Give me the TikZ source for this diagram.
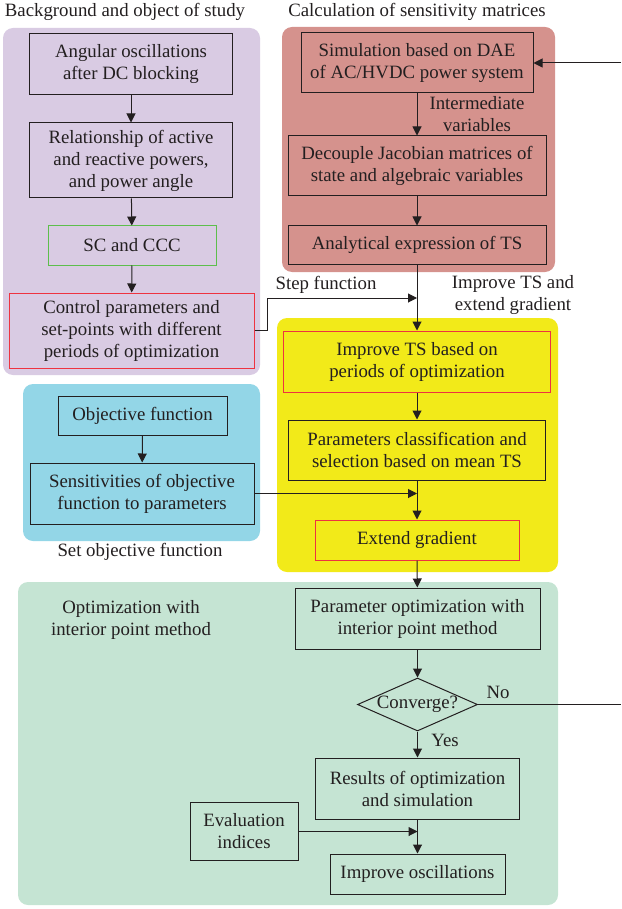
\documentclass[tikz,border=0pt]{standalone}
\usepackage{fontspec}
\setmainfont{Liberation Serif}
\usetikzlibrary{shapes.geometric,arrows.meta}

\definecolor{inkgrey}{HTML}{231F20}
\definecolor{studybg}{HTML}{D9CBE3}
\definecolor{sensbg}{HTML}{D5928D}
\definecolor{tsbg}{HTML}{F2EA19}
\definecolor{objbg}{HTML}{93D6E7}
\definecolor{optbg}{HTML}{C5E4D3}
\definecolor{markred}{HTML}{EE3340}
\definecolor{markgreen}{HTML}{5DBE4C}

\begin{document}
\begin{tikzpicture}[
    x=1pt, y=-1pt,
    font=\fontsize{18.8}{22}\selectfont,
    every node/.style={text=inkgrey},
    panel/.style={rounded corners=10pt},
    box/.style={draw=inkgrey, line width=1pt, align=center, inner sep=0pt},
    redbox/.style={box, draw=markred},
    greenbox/.style={box, draw=markgreen},
    decision/.style={draw=inkgrey, line width=1pt, diamond, aspect=2.26, inner sep=0pt,
        minimum width=120pt, minimum height=53pt},
    label/.style={align=center, inner sep=0pt},
    line/.style={draw=inkgrey, line width=1pt},
    arr/.style={line, -{Triangle[length=9pt, width=9pt]}}
]
\useasboundingbox (0,0) rectangle (621,909);

% Tla grup
\fill[panel, studybg] (3,28) rectangle (260,375);
\fill[panel, sensbg] (282,27) rectangle (555,272);
\fill[panel, tsbg] (277,318) rectangle (558,572);
\fill[panel, objbg] (23,384) rectangle (260,541);
\fill[panel, optbg] (18,582) rectangle (558,905);

% Tytuly grup
\node[label] (tstudy) at (125,12) {Background and object of study};
\node[label] (tsens) at (417,12) {Calculation of sensitivity matrices};
\node[label] (tobj) at (140,552) {Set objective function};
\node[label] (topt) at (131,620) {Optimization with\\interior point method};

% Bloki: tlo i obiekt badan
\node[box, minimum width=203pt, minimum height=61pt] (ang) at (131,64) {Angular oscillations\\after DC blocking};
\node[box, minimum width=203pt, minimum height=75pt] (rel) at (131,160.5) {Relationship of active\\and reactive powers,\\and power angle};
\node[greenbox, minimum width=168pt, minimum height=39pt] (scc) at (132,245.5) {SC and CCC};
\node[redbox, minimum width=245pt, minimum height=75pt] (ctrl) at (131.5,330.5) {Control parameters and\\set-points with different\\periods of optimization};

% Bloki: macierze wrazliwosci
\node[box, minimum width=232pt, minimum height=60pt] (sim) at (417,63) {Simulation based on DAE\\of AC/HVDC power system};
\node[box, minimum width=258pt, minimum height=60pt] (dec) at (417,166) {Decouple Jacobian matrices of\\state and algebraic variables};
\node[box, minimum width=258pt, minimum height=38pt] (ats) at (417,245) {Analytical expression of TS};

% Bloki: poprawa TS i gradient
\node[redbox, minimum width=267pt, minimum height=61pt] (imp) at (417,361.5) {Improve TS based on\\periods of optimization};
\node[box, minimum width=257pt, minimum height=60pt] (cls) at (417,450) {Parameters classification and\\selection based on mean TS};
\node[redbox, minimum width=204pt, minimum height=40pt] (ext) at (417,540) {Extend gradient};

% Bloki: funkcja celu
\node[box, minimum width=169pt, minimum height=39pt] (obj) at (142.5,415.5) {Objective function};
\node[box, minimum width=224pt, minimum height=61pt] (sens) at (142,493.5) {Sensitivities of objective\\function to parameters};

% Bloki: optymalizacja
\node[box, minimum width=245pt, minimum height=61pt] (popt) at (417.5,618.5) {Parameter optimization with\\interior point method};
\node[decision] (conv) at (417.5,704.5) {Converge?};
\node[box, minimum width=204pt, minimum height=61pt] (res) at (417.5,788.5) {Results of optimization\\and simulation};
\node[box, minimum width=108pt, minimum height=58pt] (evl) at (244,831.5) {Evaluation\\indices};
\node[box, minimum width=175pt, minimum height=40pt] (impo) at (417.5,874) {Improve oscillations};

% Punkty styku i konce petli
\coordinate (jstep) at (417,298);
\coordinate (jsens) at (417,493.5);
\coordinate (jeval) at (417.5,831.5);
\coordinate (loopin) at (621,63);
\coordinate (loopout) at (621,704.5);

% Polaczenia
\draw[arr] (ang) -- (rel);
\draw[arr] (rel) -- (scc);
\draw[arr] (scc) -- (ctrl);
\draw[arr] (sim) -- (dec);
\draw[arr] (dec) -- (ats);
\draw[arr] (ats) -- (imp);
\draw[arr] (ctrl.east) -- ++(13,0) |- (jstep);
\draw[arr] (imp) -- (cls);
\draw[arr] (cls) -- (ext);
\draw[arr] (obj) -- (sens);
\draw[arr] (sens) -- (jsens);
\draw[arr] (ext) -- (popt);
\draw[arr] (popt) -- (conv);
\draw[arr] (conv) -- (res);
\draw[arr] (res) -- (impo);
\draw[arr] (evl) -- (jeval);
\draw[line] (conv.east) -- (loopout);
\draw[arr] (loopin) -- (sim);

% Opisy polaczen
\node[label] (lint) at (477,114.5) {Intermediate\\variables};
\node[label] (lstep) at (326,285) {Step function};
\node[label] (lgrad) at (513,295) {Improve TS and\\extend gradient};
\node[label] (lno) at (498,692) {No};
\node[label] (lyes) at (445,740) {Yes};

\end{tikzpicture}
\end{document}
